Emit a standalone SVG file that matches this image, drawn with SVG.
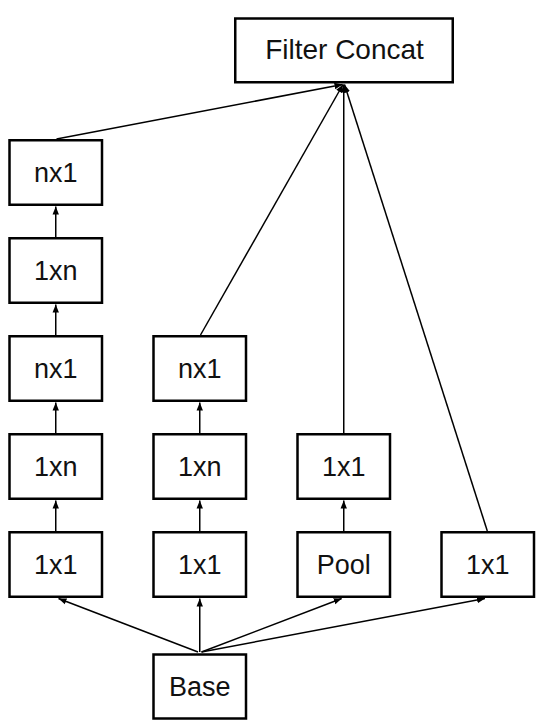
<svg xmlns="http://www.w3.org/2000/svg" width="545" height="725" viewBox="0 0 545 725">
<style>
.box{fill:#fff;stroke:#000;stroke-width:2.5}
.lbl{font-family:"Liberation Sans",Arial,sans-serif;font-size:27px;fill:#111;text-anchor:middle}
.big{font-size:28px}
.edge{stroke:#000;stroke-width:1.5;fill:none;marker-end:url(#ah)}
</style>
<defs>
<marker id="ah" markerUnits="userSpaceOnUse" markerWidth="9" markerHeight="8" refX="8" refY="4" orient="auto">
<path d="M0,0.8 L8,4 L0,7.2 z" fill="#000"/>
</marker>
</defs>
<rect width="545" height="725" fill="#fff"/>
<g id="connectors">
<line class="edge" x1="55.75" y1="531" x2="55.75" y2="500.5"/>
<line class="edge" x1="55.75" y1="433" x2="55.75" y2="402.5"/>
<line class="edge" x1="55.75" y1="335" x2="55.75" y2="304.5"/>
<line class="edge" x1="55.75" y1="237" x2="55.75" y2="206.5"/>
<line class="edge" x1="199.75" y1="531" x2="199.75" y2="500.5"/>
<line class="edge" x1="199.75" y1="433" x2="199.75" y2="402.5"/>
<line class="edge" x1="343.75" y1="531" x2="343.75" y2="500.5"/>
<line class="edge" x1="56.5" y1="139" x2="342.5" y2="84.5"/>
<line class="edge" x1="200.5" y1="335" x2="343" y2="84.5"/>
<line class="edge" x1="343.75" y1="433" x2="343.75" y2="84.5"/>
<line class="edge" x1="487.3" y1="531" x2="344.5" y2="84.5"/>
<line class="edge" x1="198" y1="652" x2="58.5" y2="598.5"/>
<line class="edge" x1="199.75" y1="652" x2="199.75" y2="598.5"/>
<line class="edge" x1="201.5" y1="652" x2="341.7" y2="598.5"/>
<line class="edge" x1="201.5" y1="652" x2="485" y2="598.5"/>
</g>
<g id="filter_concat"><rect class="box" x="235.25" y="18.5" width="217.5" height="63.75"/><text class="lbl big" x="344.5" y="58.5">Filter Concat</text></g>
<g id="c1_nx1_top"><rect class="box" x="9.5" y="140.25" width="92.5" height="64.5"/><text class="lbl" x="55.75" y="182.2">nx1</text></g>
<g id="c1_1xn_top"><rect class="box" x="9.5" y="238.25" width="92.5" height="64.5"/><text class="lbl" x="55.75" y="280.2">1xn</text></g>
<g id="c1_nx1"><rect class="box" x="9.5" y="336.25" width="92.5" height="64.5"/><text class="lbl" x="55.75" y="378.2">nx1</text></g>
<g id="c1_1xn"><rect class="box" x="9.5" y="434.25" width="92.5" height="64.5"/><text class="lbl" x="55.75" y="476.2">1xn</text></g>
<g id="c1_1x1"><rect class="box" x="9.5" y="532.25" width="92.5" height="64.5"/><text class="lbl" x="55.75" y="574.2">1x1</text></g>
<g id="c2_nx1"><rect class="box" x="153.5" y="336.25" width="92.5" height="64.5"/><text class="lbl" x="199.75" y="378.2">nx1</text></g>
<g id="c2_1xn"><rect class="box" x="153.5" y="434.25" width="92.5" height="64.5"/><text class="lbl" x="199.75" y="476.2">1xn</text></g>
<g id="c2_1x1"><rect class="box" x="153.5" y="532.25" width="92.5" height="64.5"/><text class="lbl" x="199.75" y="574.2">1x1</text></g>
<g id="c3_1x1"><rect class="box" x="297.5" y="434.25" width="92.5" height="64.5"/><text class="lbl" x="343.75" y="476.2">1x1</text></g>
<g id="c3_pool"><rect class="box" x="297.5" y="532.25" width="92.5" height="64.5"/><text class="lbl" x="343.75" y="574.2">Pool</text></g>
<g id="c4_1x1"><rect class="box" x="441.5" y="532.25" width="92.5" height="64.5"/><text class="lbl" x="487.75" y="574.2">1x1</text></g>
<g id="base"><rect class="box" x="153.5" y="654.5" width="92.5" height="64"/><text class="lbl" x="199.75" y="696">Base</text></g>
</svg>
